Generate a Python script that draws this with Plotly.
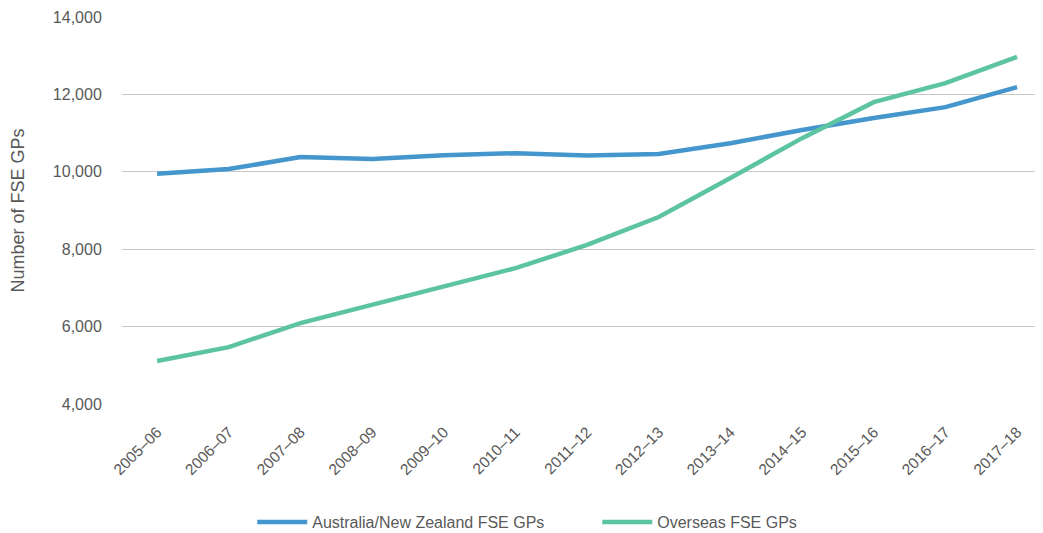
import plotly.graph_objects as go

years = ["2005–06", "2006–07", "2007–08", "2008–09", "2009–10", "2010–11", "2011–12",
         "2012–13", "2013–14", "2014–15", "2015–16", "2016–17", "2017–18"]
anz_fse_gps = [9950, 10070, 10380, 10330, 10430, 10480, 10420, 10460, 10740, 11080, 11390, 11670, 12190]
overseas_fse_gps = [5110, 5470, 6090, 6560, 7020, 7510, 8110, 8830, 9840, 10870, 11800, 12290, 12970]

y_ticks = [4000, 6000, 8000, 10000, 12000, 14000]

fig = go.Figure()
fig.add_trace(go.Scatter(x=years, y=anz_fse_gps, mode="lines",
                         name="Australia/New Zealand FSE GPs",
                         line=dict(color="#4496CD", width=4.5)))
fig.add_trace(go.Scatter(x=years, y=overseas_fse_gps, mode="lines",
                         name="Overseas FSE GPs",
                         line=dict(color="#5DC4A2", width=4.5)))

font_family = "Liberation Sans, Arial, Helvetica, sans-serif"
fig.update_layout(
    width=1035, height=525,
    margin=dict(l=114, r=8, t=9, b=129, autoexpand=False),
    plot_bgcolor="white", paper_bgcolor="white",
    font=dict(family=font_family, color="#595959", size=15),
    showlegend=True,
    legend=dict(orientation="h", xref="container", yref="container",
                x=0.236, xanchor="left", y=0.021, yanchor="middle",
                font=dict(size=16, color="#595959"), itemwidth=50,
                entrywidth=280, tracegroupgap=0),
    xaxis=dict(type="category", range=[-0.49, 12.25], showgrid=False, zeroline=False,
               showline=False, ticks="outside", ticklen=12, tickcolor="rgba(0,0,0,0)",
               tickangle=-45, automargin=False,
               tickfont=dict(size=15.5, color="#595959")),
    yaxis=dict(range=[4000, 14000], tickvals=y_ticks, tickformat=",d",
               showgrid=True, gridcolor="#C8C8C8", gridwidth=1, zeroline=False,
               showline=False, ticks="outside", ticklen=16, tickcolor="rgba(0,0,0,0)",
               automargin=False,
               tickfont=dict(size=16, color="#595959"),
               title=dict(text="Number of FSE GPs", font=dict(size=18, color="#595959"), standoff=28)),
)

fig.write_html("out.html")
